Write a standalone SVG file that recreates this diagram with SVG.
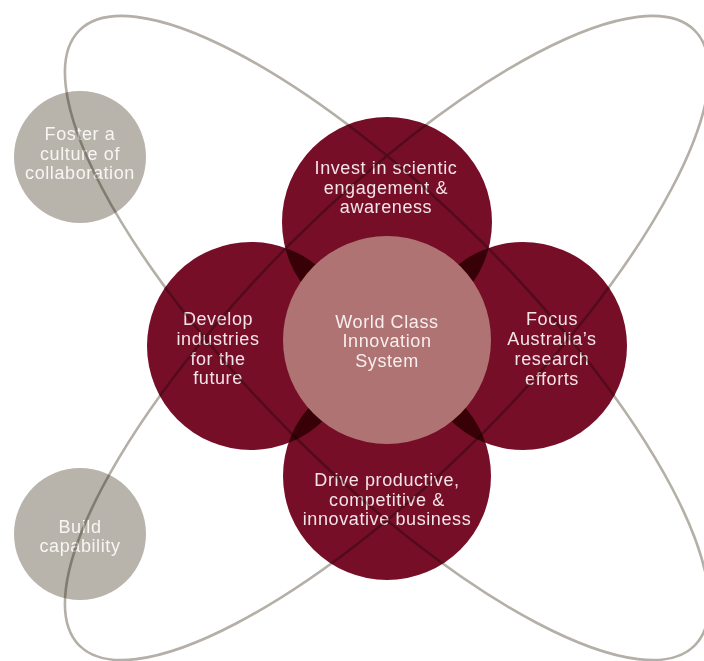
<svg xmlns="http://www.w3.org/2000/svg" width="704" height="661" viewBox="0 0 704 661">
<style>
.orbit{fill:none;stroke:#b4afa7;stroke-width:2.6}
.mul{mix-blend-mode:multiply}
.red{fill:#770e28}
.grey{fill:#b8b3ab}
.core{fill:#b07373}
text{font-family:"Liberation Sans",Arial,sans-serif;font-size:18px;letter-spacing:0.6px;text-anchor:middle}
.tr{fill:#f3e4e7}
.tg{fill:#f8f6f3}
.tc{fill:#f8eeee}
</style>
<rect width="704" height="661" fill="#ffffff"/>
<g id="connectors">
<ellipse class="orbit" cx="387" cy="338" rx="435" ry="135" transform="rotate(45 387 338)"/>
<ellipse class="orbit" cx="387" cy="338" rx="435" ry="135" transform="rotate(-45 387 338)"/>
</g>
<g id="foster" class="mul">
<circle class="grey" cx="80" cy="157" r="66"/>
<text class="tg" x="80" y="140">Foster a</text>
<text class="tg" x="80" y="160">culture of</text>
<text class="tg" x="80" y="179">collaboration</text>
</g>
<g id="build" class="mul">
<circle class="grey" cx="80" cy="534" r="66"/>
<text class="tg" x="80" y="533">Build</text>
<text class="tg" x="80" y="552">capability</text>
</g>
<g id="invest" class="mul">
<circle class="red" cx="387" cy="222" r="105"/>
<text class="tr" x="386" y="174">Invest in scientic</text>
<text class="tr" x="386" y="194">engagement &amp;</text>
<text class="tr" x="386" y="213">awareness</text>
</g>
<g id="develop" class="mul">
<circle class="red" cx="251" cy="346" r="104"/>
<text class="tr" x="218" y="325">Develop</text>
<text class="tr" x="218" y="345">industries</text>
<text class="tr" x="218" y="365">for the</text>
<text class="tr" x="218" y="384">future</text>
</g>
<g id="focus" class="mul">
<circle class="red" cx="523" cy="346" r="104"/>
<text class="tr" x="552" y="325">Focus</text>
<text class="tr" x="552" y="345">Australia’s</text>
<text class="tr" x="552" y="365">research</text>
<text class="tr" x="552" y="385">efforts</text>
</g>
<g id="drive" class="mul">
<circle class="red" cx="387" cy="476" r="104"/>
<text class="tr" x="387" y="486">Drive productive,</text>
<text class="tr" x="387" y="506">competitive &amp;</text>
<text class="tr" x="387" y="525">innovative business</text>
</g>
<g id="core">
<circle class="core" cx="387" cy="340" r="104"/>
<text class="tc" x="387" y="328">World Class</text>
<text class="tc" x="387" y="347">Innovation</text>
<text class="tc" x="387" y="367">System</text>
</g>
</svg>
